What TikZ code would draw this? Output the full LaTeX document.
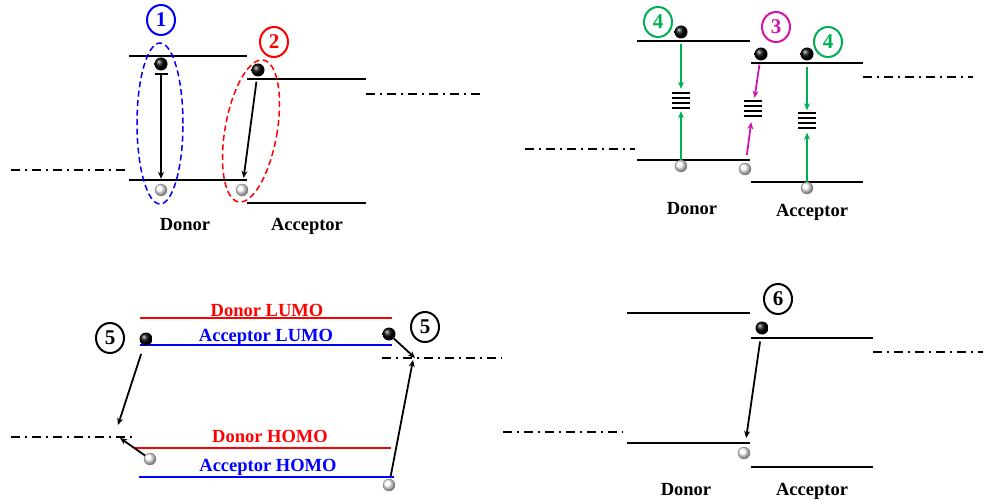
\documentclass[tikz,border=0pt]{standalone}
\usepackage{fontspec}
\setmainfont{Liberation Serif}
\usepackage{xcolor}
\usepackage{tikz}
\usetikzlibrary{shapes.geometric,arrows.meta,positioning}
\definecolor{lvgreen}{RGB}{0,176,80}
\definecolor{lvmag}{RGB}{210,20,170}
\tikzstyle{lvline}=[
line width=2.4pt
]
\tikzstyle{fermi}=[
line width=2.4pt,
dash pattern=on 9pt off 5pt on 2pt off 5pt
]
\tikzstyle{electron}=[
circle,
minimum size=13pt,
inner sep=0pt,
shading=ball,
ball color=black
]
\tikzstyle{hole}=[
circle,
minimum size=12pt,
inner sep=0pt,
shading=ball,
ball color=white,
draw=gray,
thin
]
\tikzstyle{trap}=[
minimum width=17pt,
minimum height=17pt,
inner sep=0pt
]
\tikzstyle{arrow}=[
line width=1.8pt,
-{Stealth[length=7pt,width=6pt]}
]
\tikzstyle{num}=[
ellipse,
draw,
line width=2pt,
minimum width=28pt,
minimum height=30pt,
inner sep=0pt,
font=\fontsize{21}{22}\selectfont\bfseries
]
\tikzstyle{lvtext}=[
anchor=base,
font=\fontsize{18.5}{20}\selectfont\bfseries
]
\tikzstyle{ring}=[
dashed,
dash pattern=on 6pt off 3.5pt,
line width=1.5pt
]

\begin{document}
\begin{tikzpicture}[x=1pt,y=-1pt]
\useasboundingbox (0,0) rectangle (985,500);

% top left
\draw [lvline] (129,56) -- (247,56);
\draw [lvline] (129,180) -- (247,180);
\draw [lvline] (247,79) -- (366,79);
\draw [lvline] (247,203) -- (366,203);
\draw [fermi] (11,170) -- (127,170);
\draw [fermi] (366,94) -- (480,94);

\node (e1) [electron] at (161,64) {};
\node (h1) [hole] at (161,190) {};
\node (e2) [electron] at (258,70) {};
\node (h2) [hole] at (242,190) {};

\draw [line width=1.8pt, {Bar[width=13pt,line width=2.4pt]}-{Stealth[length=7pt,width=6pt]}, shorten <=2pt, shorten >=5pt] (e1) -- (h1);
\draw [arrow, shorten <=5pt, shorten >=6pt] (e2) -- (h2);

\draw [ring, blue] (160,123.5) ellipse [x radius=23pt, y radius=80.5pt];
\draw [ring, red, rotate around={-10:(251,131)}] (251,131) ellipse [x radius=26pt, y radius=72pt];

\node (n1) [num, blue] at (161,20) {1};
\node (n2) [num, red] at (274,42) {2};
\node (donor1) [lvtext] at (185,230) {Donor};
\node (acceptor1) [lvtext] at (307,230) {Acceptor};

% top right
\draw [lvline] (637,41) -- (750,41);
\draw [lvline] (637,160) -- (750,160);
\draw [lvline] (751,63) -- (863,63);
\draw [lvline] (751,182) -- (863,182);
\draw [fermi] (525,149) -- (635,149);
\draw [fermi] (863,77) -- (973,77);

\node (e3) [electron] at (681,32) {};
\node (h3) [hole] at (681,166) {};
\node (e4) [electron] at (761,54) {};
\node (h4) [hole] at (745,169) {};
\node (e5) [electron] at (807,54) {};
\node (h5) [hole] at (807,188) {};
\node (t1) [trap] at (681,100.5) {};
\node (t2) [trap] at (753,108.5) {};
\node (t3) [trap] at (807,121) {};
\foreach \t in {t1,t2,t3}
  \foreach \k in {0,...,3}
    \draw [line width=2.3pt] ([yshift=-1pt-\k*5pt]\t.north west) -- ([yshift=-1pt-\k*5pt]\t.north east);

\draw [arrow, lvgreen, shorten <=5pt, shorten >=3pt] (e3) -- (t1);
\draw [arrow, lvgreen, shorten >=2pt] (h3) -- (t1);
\draw [arrow, lvmag, shorten <=4pt, shorten >=2pt] (e4) -- (t2);
\draw [arrow, lvmag, shorten <=8pt, shorten >=5pt] (h4) -- (t2);
\draw [arrow, lvgreen, shorten <=6pt, shorten >=2pt] (e5) -- (t3);
\draw [arrow, lvgreen, shorten >=3pt] (h5) -- (t3);

\node (n4a) [num, lvgreen] at (658,22) {4};
\node (n3) [num, lvmag] at (776,27) {3};
\node (n4b) [num, lvgreen] at (828,42) {4};
\node (donor2) [lvtext] at (692,214) {Donor};
\node (acceptor2) [lvtext] at (812,216) {Acceptor};

% bottom left
\draw [lvline, red] (140,318) -- (392,318);
\draw [lvline, blue] (140,345) -- (392,345);
\draw [lvline, red] (135,448) -- (391,448);
\draw [lvline, blue] (139,477) -- (394,477);
\draw [fermi] (11,437) -- (132,437);
\draw [fermi] (382,358) -- (502,358);

\node (dlumo) [lvtext, red] at (267,316) {Donor LUMO};
\node (alumo) [lvtext, blue] at (266,341) {Acceptor LUMO};
\node (dhomo) [lvtext, red] at (270,442) {Donor HOMO};
\node (ahomo) [lvtext, blue] at (268,471) {Acceptor HOMO};

\node (e6) [electron] at (146,339) {};
\node (h6) [hole] at (150,459) {};
\node (e7) [electron] at (389,334) {};
\node (h7) [hole] at (389,485) {};
\coordinate (f1) at (118,425);
\coordinate (f2) at (120,438);
\coordinate (f3) at (415,358);
\coordinate (f4) at (413,360);

\draw [arrow, shorten <=9pt] (e6) -- (f1);
\draw [arrow] (h6) -- (f2);
\draw [arrow] (e7) -- (f3);
\draw [arrow, shorten <=3pt] (h7) -- (f4);

\node (n5a) [num] at (110,338) {5};
\node (n5b) [num] at (425,327) {5};

% bottom right
\draw [lvline] (627,313) -- (750,313);
\draw [lvline] (627,443) -- (750,443);
\draw [lvline] (751,338) -- (873,338);
\draw [lvline] (751,467) -- (873,467);
\draw [fermi] (503,432) -- (623,432);
\draw [fermi] (873,352) -- (983,352);

\node (e8) [electron] at (762,328) {};
\node (h8) [hole] at (744,453) {};
\draw [arrow, shorten <=7pt, shorten >=9pt] (e8) -- (h8);

\node (n6) [num] at (778,299) {6};
\node (donor3) [lvtext] at (686,495) {Donor};
\node (acceptor3) [lvtext] at (812,495) {Acceptor};

\end{tikzpicture}
\end{document}
